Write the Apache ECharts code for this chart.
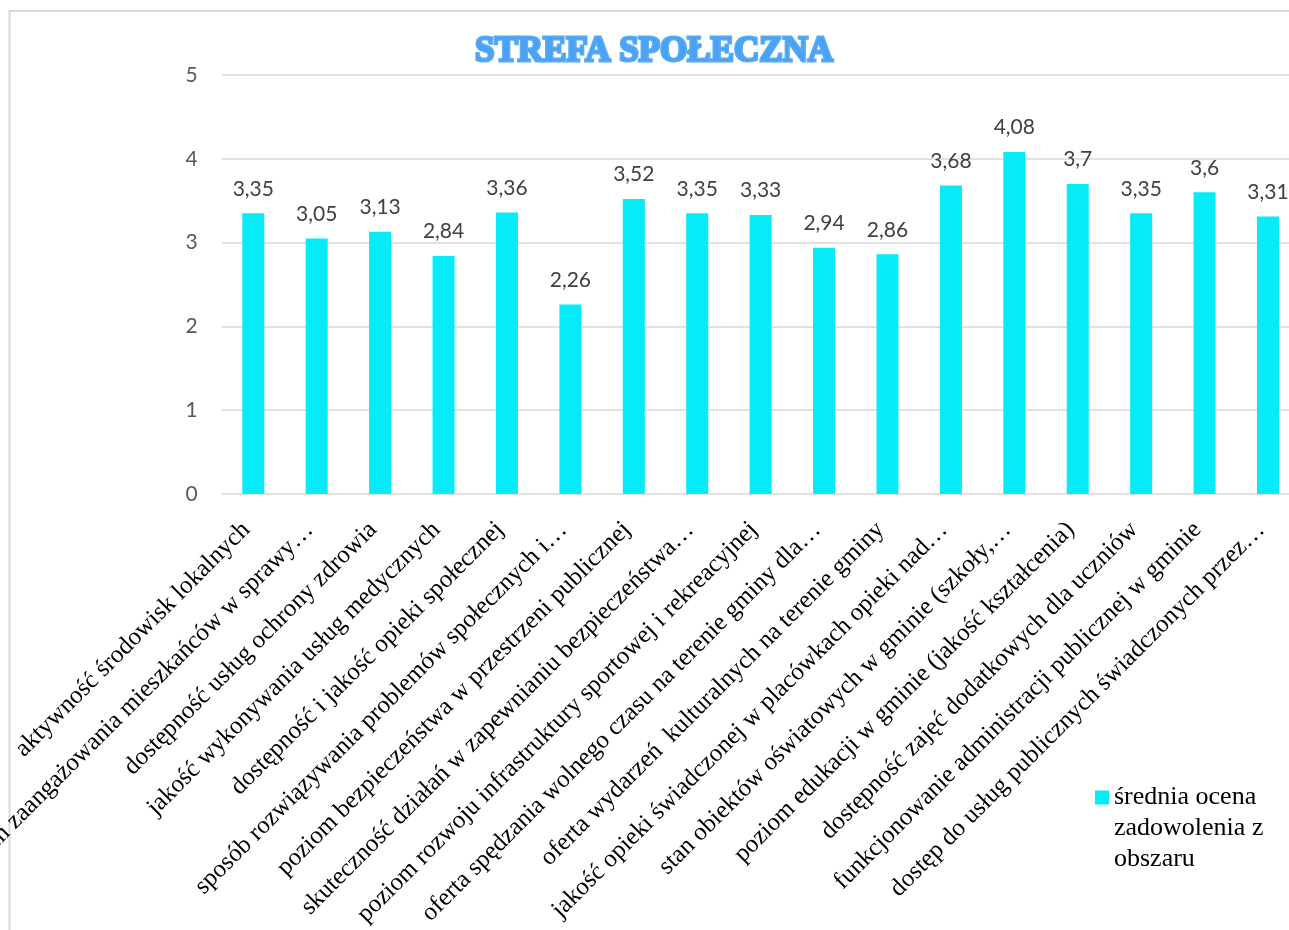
<!DOCTYPE html>
<html>
<head>
<meta charset="utf-8">
<script src="https://cdn.jsdelivr.net/npm/echarts@6/dist/echarts.min.js"></script>
<style>
  html, body { margin: 0; padding: 0; background: #ffffff; }
  #chart { width: 1289px; height: 930px; }
</style>
</head>
<body>
<div id="chart"></div>
<script>
// Survey areas (long names shortened with an ellipsis)
const categories = [
  'aktywność środowisk lokalnych',
  'poziom zaangażowania mieszkańców w sprawy…',
  'dostępność usług ochrony zdrowia',
  'jakość wykonywania usług medycznych',
  'dostępność i jakość opieki społecznej',
  'sposób rozwiązywania problemów społecznych i…',
  'poziom bezpieczeństwa w przestrzeni publicznej',
  'skuteczność działań w zapewnianiu bezpieczeństwa…',
  'poziom rozwoju infrastruktury sportowej i rekreacyjnej',
  'oferta spędzania wolnego czasu na terenie gminy dla…',
  'oferta wydarzeń  kulturalnych na terenie gminy',
  'jakość opieki świadczonej w placówkach opieki nad…',
  'stan obiektów oświatowych w gminie (szkoły,…',
  'poziom edukacji w gminie (jakość kształcenia)',
  'dostępność zajęć dodatkowych dla uczniów',
  'funkcjonowanie administracji publicznej w gminie',
  'dostęp do usług publicznych świadczonych przez…'
];

// Average satisfaction score per area
const averageScores = [3.35, 3.05, 3.13, 2.84, 3.36, 2.26, 3.52, 3.35, 3.33, 2.94, 2.86, 3.68, 4.08, 3.7, 3.35, 3.6, 3.31];

const seriesName = 'średnia ocena zadowolenia z obszaru';
// two leading blank lines keep the first text line level with the legend swatch
const legendLabel = '\n\nśrednia ocena\nzadowolenia z\nobszaru';
const titleText = 'STREFA SPOŁECZNA';

const yTicks = { min: 0, max: 5, interval: 1 };

const BAR = '#05ecf8';
const TITLE_BLUE = '#4ba2f5';

const chart = echarts.init(document.getElementById('chart'), null, { renderer: 'canvas' });

const fmtComma = v => String(v).replace('.', ',');

chart.setOption({
  animation: false,
  backgroundColor: '#ffffff',
  title: {
    text: titleText,
    left: 654,
    top: 52,
    textAlign: 'center',
    textVerticalAlign: 'middle',
    padding: 0,
    z: 10,
    textStyle: {
      fontFamily: 'Liberation Serif',
      fontWeight: 'bold',
      fontSize: 35,
      color: TITLE_BLUE,
      textShadowColor: '#000000',
      textShadowBlur: 0,
      textShadowOffsetX: 1.8,
      textShadowOffsetY: 0.6
    }
  },
  graphic: [
    {
      // chart frame
      type: 'rect',
      silent: true,
      z: 0,
      shape: { x: 9.5, y: 11, width: 1400, height: 1000 },
      style: { fill: 'none', stroke: '#d9d9d9', lineWidth: 2 }
    },
    {
      // soft glow under the title lettering
      type: 'text',
      silent: true,
      z: 1,
      x: 654,
      y: 52,
      style: {
        text: titleText,
        fontFamily: 'Liberation Serif',
        fontWeight: 'bold',
        fontSize: 35,
        align: 'center',
        verticalAlign: 'middle',
        fill: '#5aacf5',
        stroke: '#5aacf5',
        lineWidth: 3,
        lineJoin: 'round'
      }
    }
  ],
  legend: {
    orient: 'vertical',
    left: 1095,
    top: 720,
    padding: 0,
    itemWidth: 14,
    itemHeight: 14,
    itemGap: 6,
    icon: 'rect',
    data: [seriesName],
    formatter: () => legendLabel,
    textStyle: {
      fontFamily: 'Liberation Serif',
      fontSize: 26,
      color: '#000000',
      lineHeight: 31
    }
  },
  grid: {
    left: 221.6,
    right: -10.7,
    top: 75,
    bottom: 436,
    containLabel: false,
    outerBoundsMode: 'none'
  },
  xAxis: {
    type: 'category',
    data: categories,
    axisLine: { show: false },
    axisTick: { show: false },
    axisLabel: {
      interval: 0,
      rotate: 45,
      margin: 25,
      padding: [0, 10, 0, 0],
      fontFamily: 'Liberation Serif',
      fontSize: 25,
      color: '#000000'
    }
  },
  yAxis: {
    type: 'value',
    min: yTicks.min,
    max: yTicks.max,
    interval: yTicks.interval,
    axisLine: { show: false },
    axisTick: { show: false },
    axisLabel: {
      margin: 24,
      fontFamily: 'Lato',
      fontSize: 21,
      color: '#595959'
    },
    splitLine: { lineStyle: { color: '#d9d9d9', width: 1.5 } }
  },
  series: [
    {
      name: seriesName,
      type: 'bar',
      data: averageScores,
      barWidth: 22,
      itemStyle: { color: BAR },
      label: {
        show: true,
        position: 'top',
        distance: 14,
        fontFamily: 'Lato',
        fontSize: 21,
        color: '#404040',
        formatter: p => fmtComma(p.value)
      }
    }
  ]
});
</script>
</body>
</html>
